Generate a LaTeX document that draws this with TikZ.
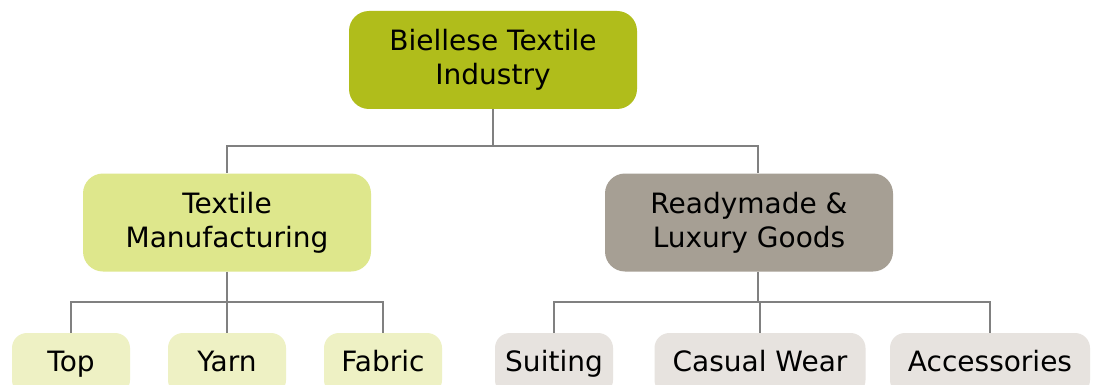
\documentclass[tikz,border=0pt]{standalone}
\usepackage{fontspec}
\setmainfont{DejaVu Sans}
\definecolor{rootfill}{RGB}{176,189,27}
\definecolor{mfgfill}{RGB}{222,231,140}
\definecolor{luxfill}{RGB}{166,159,148}
\definecolor{mfgleaf}{RGB}{238,241,196}
\definecolor{luxleaf}{RGB}{231,227,223}
\definecolor{linkgray}{RGB}{128,128,128}
\begin{document}
\begin{tikzpicture}[x=1pt,y=-1pt,
  box/.style={rounded corners=20pt, inner sep=0pt, align=center,
    font=\fontsize{28}{34}\selectfont, text=black},
  bigbox/.style={box, minimum width=288pt, minimum height=98pt},
  leaf/.style={box, rounded corners=15pt, minimum height=62pt,
    text height=20pt, text depth=6pt},
  conn/.style={draw=linkgray, line width=1.8pt}]
  \useasboundingbox[fill=white] (0,0) rectangle (1094,385);

  % hierarchy nodes
  \node[bigbox, fill=rootfill] (root) at (493,60) {Biellese Textile\\Industry};
  \node[bigbox, fill=mfgfill] (tm) at (227,222.5) {Textile\\Manufacturing};
  \node[bigbox, fill=luxfill] (rl) at (749,222.5) {Readymade \&\\Luxury Goods};

  \node[leaf, fill=mfgleaf, minimum width=118pt] (top) at (71,364) {Top};
  \node[leaf, fill=mfgleaf, minimum width=118pt] (yarn) at (227,364) {Yarn};
  \node[leaf, fill=mfgleaf, minimum width=118pt] (fabric) at (383,364) {Fabric};
  \node[leaf, fill=luxleaf, minimum width=118pt] (suit) at (554,364) {Suiting};
  \node[leaf, fill=luxleaf, minimum width=211pt] (casual) at (760,364) {Casual Wear};
  \node[leaf, fill=luxleaf, minimum width=200pt] (acc) at (990,364) {Accessories};

  % connectors (elbow style)
  \draw[conn] (root.south) -- ++(0,37) -| (tm.north);
  \draw[conn] (root.south) ++(0,37) -| ([xshift=9pt]rl.north);

  \draw[conn] (tm.south) -- ++(0,30) -| (top.north);
  \draw[conn] (tm.south) ++(0,30) -| (yarn.north);
  \draw[conn] (tm.south) ++(0,30) -| (fabric.north);

  \draw[conn] ([xshift=9pt]rl.south) -- ++(0,30) -| (suit.north);
  \draw[conn] ([xshift=9pt]rl.south) ++(0,30) -| (casual.north);
  \draw[conn] ([xshift=9pt]rl.south) ++(0,30) -| (acc.north);
\end{tikzpicture}
\end{document}
